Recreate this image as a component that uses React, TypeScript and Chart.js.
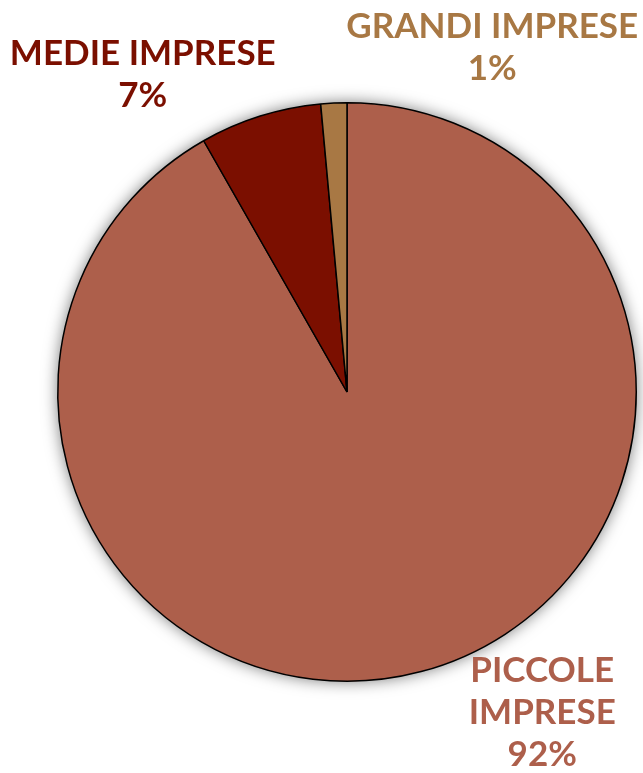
import React, { useEffect, useRef } from "react";
import { Chart, registerables } from "chart.js";

Chart.register(...registerables);

const categories = ["PICCOLE IMPRESE", "MEDIE IMPRESE", "GRANDI IMPRESE"];
const values = [91.75, 6.8, 1.45];
const sliceColors = ["#AD5F4B", "#7B0F00", "#A87844"];
const labelColors = ["#AD5F4B", "#7B0F00", "#A87844"];
// label line breaks, and position of label block (fraction of radius from centre)
const labelLines = [["PICCOLE", "IMPRESE"], ["MEDIE IMPRESE"], ["GRANDI IMPRESE"]];
const labelAnchors = [
  [0.675, 0.962],
  [-0.706, -1.17],
  [0.502, -1.263],
];

const FONT = "bold 35px Lato, 'Open Sans', sans-serif";
const LINE_H = 42;

const shadowPlugin = {
  id: "pieShadow",
  beforeDatasetsDraw(chart: any) {
    const arc = chart.getDatasetMeta(0).data[0];
    if (!arc) return;
    const { x, y, outerRadius } = arc.getProps(["x", "y", "outerRadius"], true);
    const ctx = chart.ctx;
    ctx.save();
    ctx.shadowColor = "rgba(0,0,0,0.55)";
    ctx.shadowBlur = 16;
    ctx.fillStyle = "#ffffff";
    ctx.beginPath();
    ctx.arc(x, y, outerRadius, 0, Math.PI * 2);
    ctx.fill();
    ctx.restore();
  },
};

const labelPlugin = {
  id: "outerLabels",
  afterDatasetsDraw(chart: any) {
    const meta = chart.getDatasetMeta(0);
    const arc = meta.data[0];
    if (!arc) return;
    const { x, y, outerRadius } = arc.getProps(["x", "y", "outerRadius"], true);
    const data = chart.data.datasets[0].data as number[];
    const total = data.reduce((a, b) => a + b, 0);
    const ctx = chart.ctx;
    ctx.save();
    ctx.font = FONT;
    ctx.textAlign = "center";
    ctx.textBaseline = "middle";
    data.forEach((v, i) => {
      const pct = Math.round((v / total) * 100) + "%";
      const lines = [...labelLines[i], pct];
      const cx = x + labelAnchors[i][0] * outerRadius;
      const cy = y + labelAnchors[i][1] * outerRadius;
      ctx.fillStyle = labelColors[i];
      lines.forEach((t, k) => ctx.fillText(t, cx, cy + k * LINE_H));
    });
    ctx.restore();
  },
};

export default function App() {
  const ref = useRef<HTMLCanvasElement | null>(null);
  useEffect(() => {
    if (!ref.current) return;
    const chart = new Chart(ref.current, {
      type: "pie",
      data: {
        labels: categories,
        datasets: [
          {
            data: values,
            backgroundColor: sliceColors,
            borderColor: "#000000",
            borderWidth: 1.5,
          },
        ],
      },
      options: {
        animation: false,
        responsive: true,
        maintainAspectRatio: false,
        rotation: 0,
        layout: { padding: { left: 57, right: 6, top: 102, bottom: 91 } },
        plugins: {
          legend: { display: false },
          tooltip: { enabled: false },
        },
      },
      plugins: [shadowPlugin, labelPlugin],
    });
    return () => chart.destroy();
  }, []);
  return (
    <div style={{ position: "absolute", left: 0, top: 0, width: 643, height: 773, background: "#fff" }}>
      <canvas ref={ref} />
    </div>
  );
}
